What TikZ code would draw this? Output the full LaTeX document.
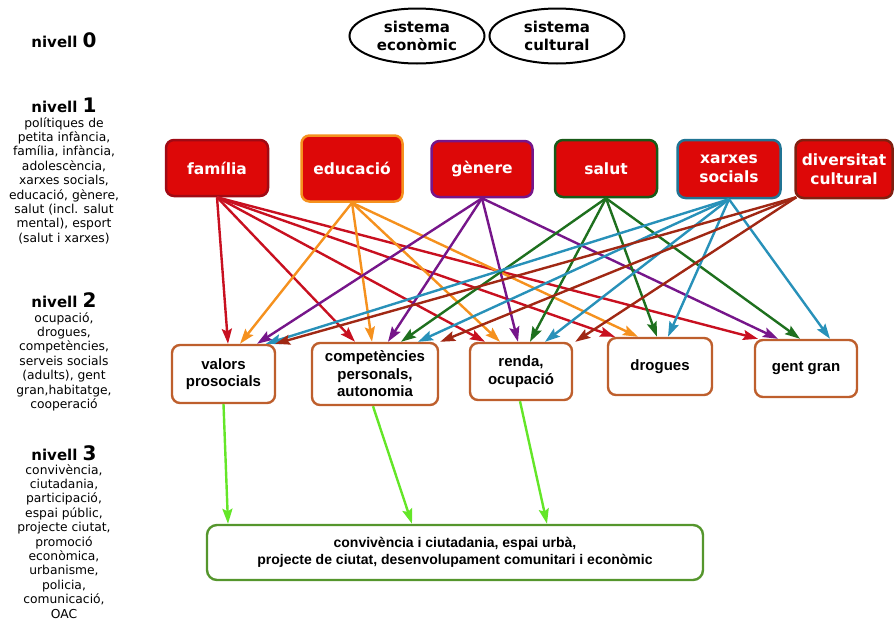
\documentclass[tikz,border=0pt]{standalone}
\usepackage{fontspec}
\setmainfont{DejaVu Sans}
\newfontfamily\arialfont{Liberation Sans}
\usetikzlibrary{arrows.meta,shapes.geometric}

\definecolor{boxred}{RGB}{221,8,8}
\definecolor{famcol}{RGB}{200,16,32}
\definecolor{famedge}{RGB}{160,10,20}
\definecolor{educol}{RGB}{245,145,30}
\definecolor{gencol}{RGB}{118,22,138}
\definecolor{salcol}{RGB}{30,112,30}
\definecolor{xarcol}{RGB}{40,145,185}
\definecolor{divcol}{RGB}{160,40,20}
\definecolor{ltwoedge}{RGB}{190,95,45}
\definecolor{lthreeedge}{RGB}{85,150,45}
\definecolor{lightgreen}{RGB}{100,230,40}

\begin{document}
\begin{tikzpicture}[x=1pt,y=-1pt,
  lvlone/.style={draw, line width=2.5pt, fill=boxred, rounded corners=8pt,
    text=white, font=\bfseries\fontsize{15.5}{18.5}\selectfont,
    align=center, inner sep=0pt},
  lvltwo/.style={draw=ltwoedge, line width=2.4pt, fill=white, rounded corners=8pt,
    font=\arialfont\bfseries\fontsize{15}{17.5}\selectfont,
    align=center, inner sep=0pt},
  sysnode/.style={draw, ellipse, line width=2pt, inner sep=0pt,
    minimum width=135pt, minimum height=55pt,
    font=\bfseries\fontsize{15}{18}\selectfont, align=center},
  heading/.style={anchor=base, font=\bfseries\fontsize{15}{18}\selectfont},
  desc/.style={anchor=north, align=center, inner sep=0pt,
    font=\fontsize{12.3}{14.4}\selectfont},
  link/.style={line width=2.4pt, -{Stealth[length=15pt,width=10pt,inset=2.5pt]}},
  uplink/.style={line width=2.4pt, lightgreen, -{Stealth[length=15pt,width=10pt,inset=2.5pt]}}
]
\useasboundingbox (0,0) rectangle (894,632);

% level labels on the left
\node[heading] (h0) at (64,47) {nivell {\fontsize{20}{20}\selectfont 0}};
\node[heading] (h1) at (64,112) {nivell {\fontsize{20}{20}\selectfont 1}};
\node[desc] (d1) at (64,117) {polítiques de\\petita infància,\\família, infància,\\adolescència,\\xarxes socials,\\educació, gènere,\\salut (incl. salut\\mental), esport\\(salut i xarxes)};
\node[heading] (h2) at (64,307) {nivell {\fontsize{20}{20}\selectfont 2}};
\node[desc] (d2) at (64,312) {ocupació,\\drogues,\\competències,\\serveis socials\\(adults), gent\\gran,habitatge,\\cooperació};
\node[heading] (h3) at (64,460) {nivell {\fontsize{20}{20}\selectfont 3}};
\node[desc] (d3) at (64,464) {convivència,\\ciutadania,\\participació,\\espai públic,\\projecte ciutat,\\promoció\\econòmica,\\urbanisme,\\policia,\\comunicació,\\OAC};

% level 0: systems
\node[sysnode] (eco) at (417,36) {sistema\\econòmic};
\node[sysnode] (cul) at (557,36) {sistema\\cultural};

% level 1: policy areas
\node[lvlone, draw=famedge, minimum width=102pt, minimum height=56pt] (fam) at (217,168) {família};
\node[lvlone, draw=educol, minimum width=101pt, minimum height=66pt] (edu) at (352,168.5) {educació};
\node[lvlone, draw=gencol, minimum width=101pt, minimum height=56pt] (gen) at (482,169) {gènere};
\node[lvlone, draw=salcol!80!black, minimum width=102pt, minimum height=57pt] (sal) at (606,168.5) {salut};
\node[lvlone, draw=xarcol!80!black, minimum width=103pt, minimum height=58pt] (xar) at (729,169) {xarxes\\socials};
\node[lvlone, draw=divcol!80!black, minimum width=97pt, minimum height=58pt] (div) at (844,169) {diversitat\\cultural};

% level 2: outcomes
\node[lvltwo, minimum width=103pt, minimum height=58pt] (val) at (223.5,374) {valors\\prosocials};
\node[lvltwo, minimum width=126pt, minimum height=62pt] (comp) at (375,374) {competències\\personals,\\autonomia};
\node[lvltwo, minimum width=102pt, minimum height=57pt] (ren) at (521,371.5) {renda,\\ocupació};
\node[lvltwo, minimum width=104pt, minimum height=57pt] (dro) at (660,366.5) {drogues};
\node[lvltwo, minimum width=102pt, minimum height=57pt] (gg) at (806,368.5) {gent gran};

% level 3: community
\node[draw=lthreeedge, line width=2.4pt, rounded corners=10pt, fill=white,
  minimum width=496pt, minimum height=55pt, inner sep=0pt, align=center,
  font=\arialfont\bfseries\fontsize{14}{17.5}\selectfont] (com) at (455,552.5)
  {convivència i ciutadania, espai urbà,\\projecte de ciutat, desenvolupament comunitari i econòmic};

% família
\draw[link, famcol] (fam.south) -- ([xshift=4.5pt]val.north);
\draw[link, famcol] (fam.south) -- ([xshift=-20pt]comp.north);
\draw[link, famcol] (fam.south) -- ([xshift=-36pt]ren.north);
\draw[link, famcol] (fam.south) -- ([xshift=-45pt]dro.north);
\draw[link, famcol] (fam.south) -- ([xshift=-48pt]gg.north);
% educació
\draw[link, educol] (edu.south) -- ([xshift=16.5pt]val.north);
\draw[link, educol] (edu.south) -- ([xshift=-3pt]comp.north);
\draw[link, educol] (edu.south) -- ([xshift=-21pt]ren.north);
\draw[link, educol] (edu.south) -- ([xshift=-22pt]dro.north);
% gènere
\draw[link, gencol] (gen.south) -- ([xshift=33.5pt]val.north);
\draw[link, gencol] (gen.south) -- ([xshift=13pt]comp.north);
\draw[link, gencol] (gen.south) -- ([xshift=-3pt]ren.north);
\draw[link, gencol] (gen.south) -- ([xshift=-28pt]gg.north);
% salut
\draw[link, salcol] (sal.south) -- ([xshift=26pt]comp.north);
\draw[link, salcol] (sal.south) -- ([xshift=9pt]ren.north);
\draw[link, salcol] (sal.south) -- ([xshift=-3pt]dro.north);
\draw[link, salcol] (sal.south) -- ([xshift=-6pt]gg.north);
% xarxes socials
\draw[link, xarcol] (xar.south) -- ([xshift=42.5pt]val.north);
\draw[link, xarcol] (xar.south) -- ([xshift=43pt]comp.north);
\draw[link, xarcol] (xar.south) -- ([xshift=24pt]ren.north);
\draw[link, xarcol] (xar.south) -- ([xshift=8pt]dro.north);
\draw[link, xarcol] (xar.south) -- ([xshift=24pt]gg.north);
% diversitat cultural
\draw[link, divcol] ([xshift=2pt,yshift=2pt]div.south west) -- ([xshift=-1pt]val.north east);
\draw[link, divcol] ([xshift=2pt,yshift=2pt]div.south west) -- ([xshift=1pt]comp.north east);
\draw[link, divcol] ([xshift=2pt,yshift=2pt]div.south west) -- ([xshift=2pt]ren.north east);

% level 2 to level 3
\draw[uplink] (val.south) -- ([xshift=-227pt]com.north);
\draw[uplink] ([xshift=-2pt]comp.south) -- ([xshift=-43pt]com.north);
\draw[uplink] ([xshift=-1pt]ren.south) -- ([xshift=92pt]com.north);
\end{tikzpicture}
\end{document}
